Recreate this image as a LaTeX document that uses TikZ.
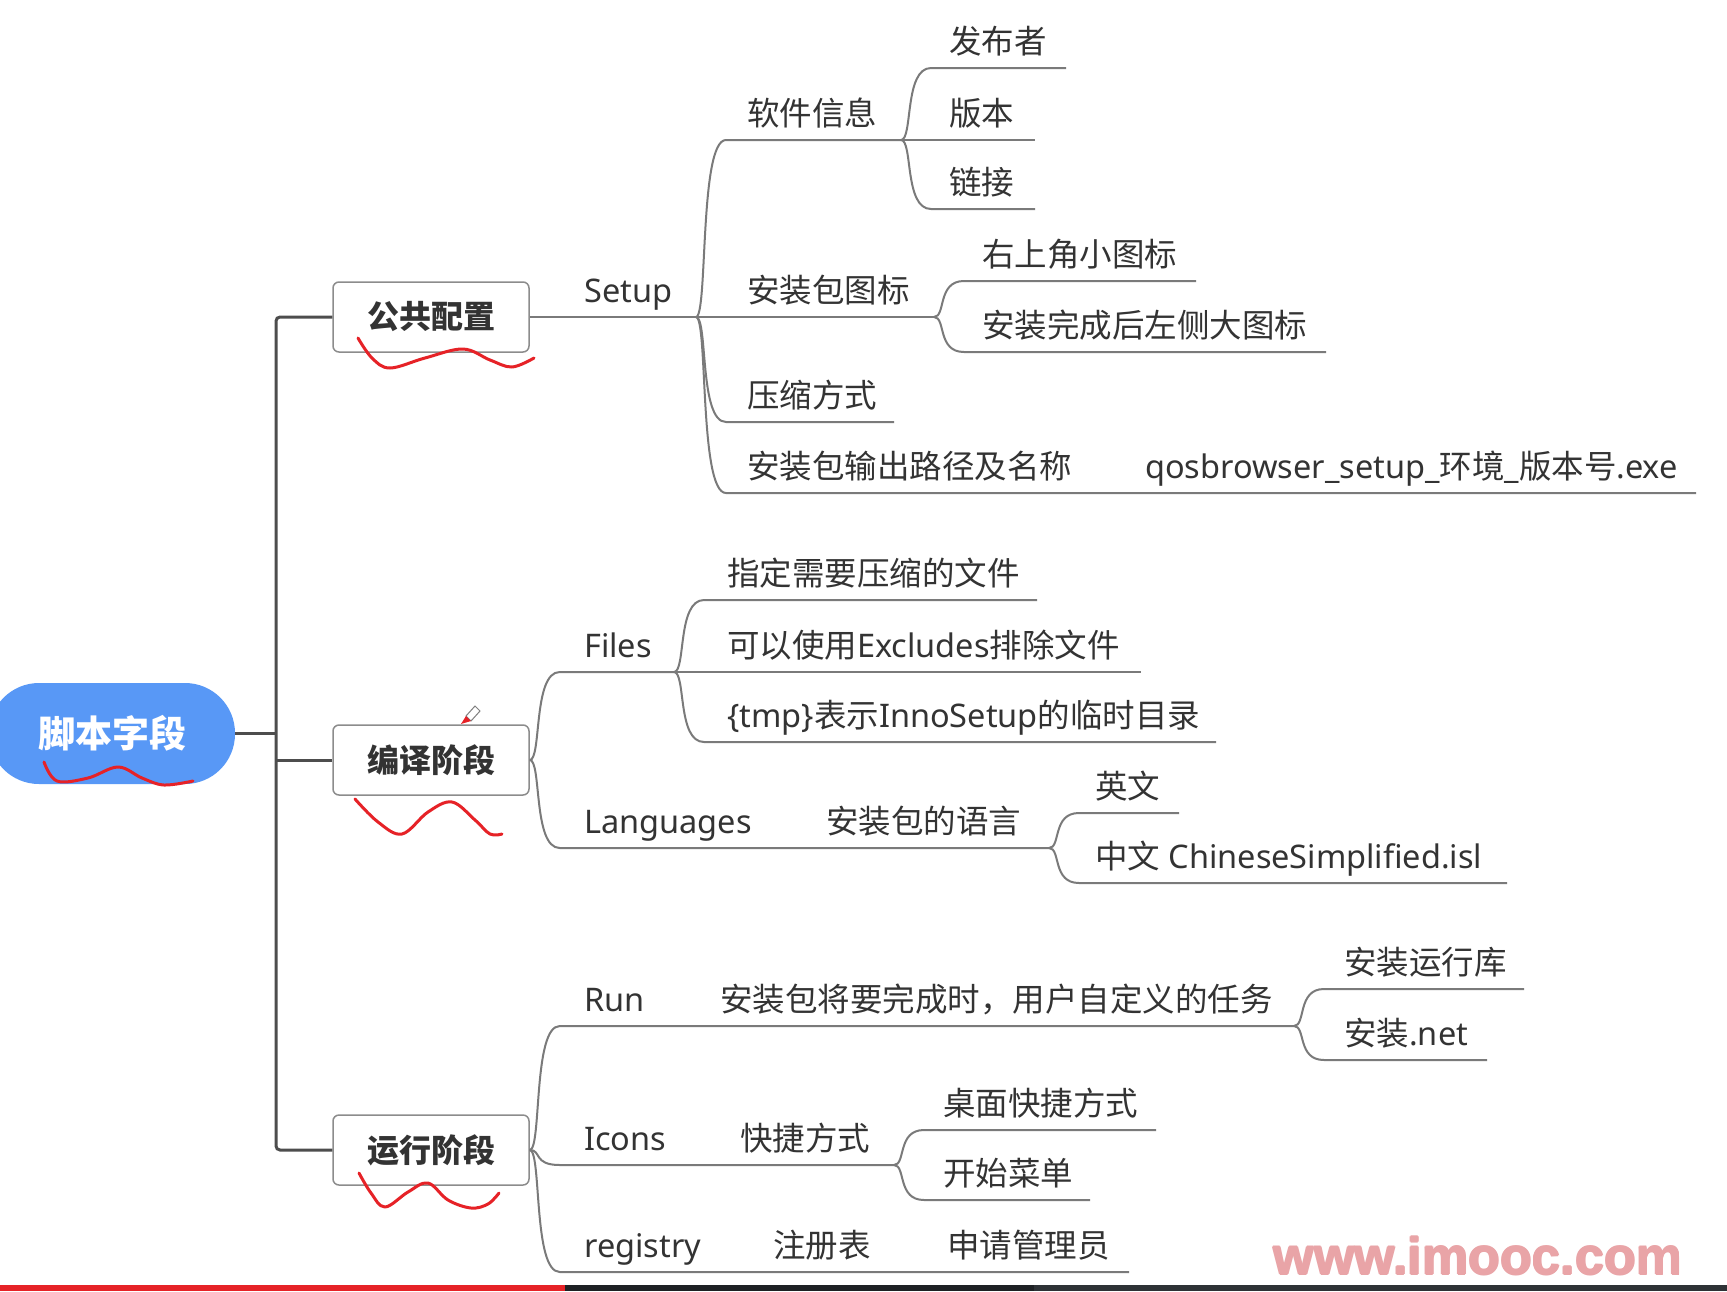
\documentclass[tikz,border=0pt]{standalone}
\usepackage{fontspec}
\setmainfont{Noto Sans}
\newfontfamily\zh{Noto Sans CJK SC}
\newfontfamily\wmfont{Liberation Sans}
\usetikzlibrary{calc}
\definecolor{txtc}{HTML}{333333}
\definecolor{lnc}{HTML}{7A7A7A}
\definecolor{trc}{HTML}{4D4D4D}
\definecolor{boxc}{HTML}{8C8C8C}
\definecolor{rootc}{HTML}{5898F6}
\definecolor{penred}{HTML}{E62227}
\definecolor{wmc}{HTML}{E9A4A7}
\definecolor{barA}{HTML}{1E2124}
\definecolor{barB}{HTML}{2E3236}
\newcommand\mmbranch[2]{\draw[br] (#1) .. controls ($(#1)+(12,0)$) and ($(#1|-#2)+(3,0)$) .. ($(#1|-#2)+(30,0)$) -- (#2);}
\begin{document}
\begin{tikzpicture}[x=1pt,y=-1pt,
  lbl/.style={anchor=base west,inner sep=0pt,text=txtc,font=\fontsize{32.5}{39}\selectfont},
  lblz/.style={lbl,font=\fontsize{32.5}{39}\selectfont\zh},
  br/.style={draw=lnc,line width=2pt},
  trunk/.style={draw=trc,line width=3pt,rounded corners=4pt},
  l1box/.style={draw=boxc,line width=1.5pt,fill=white,rounded corners=6pt,minimum width=196pt,minimum height=70pt,inner sep=0pt,text=txtc,font=\fontsize{32}{38}\selectfont\zh\bfseries},
  rootnode/.style={fill=rootc,rounded corners=50pt,minimum width=246pt,minimum height=101pt,inner sep=0pt,text=white,font=\fontsize{37}{44}\selectfont\zh\bfseries},
  squig/.style={draw=penred,line width=3pt,line cap=round,line join=round},
  wmstyle/.style={font=\fontsize{52}{60}\selectfont\wmfont\bfseries,text=wmc,inner sep=0pt},
]
\useasboundingbox (0,0) rectangle (1727,1291);
\fill[white] (0,0) rectangle (1727,1291);

% level 0 and 1
\node[rootnode] (root) at (112,733.5) {脚本字段};
\node[l1box] (b1) at (431,317) {公共配置};
\node[l1box] (b2) at (431,760) {编译阶段};
\node[l1box] (b3) at (431,1150) {运行阶段};

\coordinate (tk1) at (276,317);
\coordinate (tk2) at (276,760);
\coordinate (tk3) at (276,1150);
\coordinate (tkr) at (276,733.5);
\draw[trunk] (b1.west) -- (tk1) -- (tk3) -- (b3.west);
\draw[trunk] (root.east) -- (tkr);
\draw[trunk] (tk2) -- (b2.west);

% junctions and line ends
\coordinate (J1) at (696,317);
\coordinate (J11) at (901,140);
\coordinate (J12) at (934,317);
\coordinate (e13) at (894,422);
\coordinate (e14) at (1696,493);
\coordinate (e111) at (1066,68);
\coordinate (e112) at (1035,140);
\coordinate (e113) at (1035,209);
\coordinate (e121) at (1196,281);
\coordinate (e122) at (1326,352);
\coordinate (J21) at (674,672);
\coordinate (e211) at (1037,600);
\coordinate (e212) at (1141,672);
\coordinate (e213) at (1216,742);
\coordinate (J22) at (1049,848);
\coordinate (e221) at (1179,813);
\coordinate (e222) at (1507,883);
\coordinate (J31) at (1294,1026);
\coordinate (e311) at (1524,989);
\coordinate (e312) at (1487,1060);
\coordinate (J32) at (894,1165);
\coordinate (e321) at (1156,1130);
\coordinate (e322) at (1090,1200);
\coordinate (e33) at (1129,1272);

% connectors
\draw[br] (b1.east) -- (J1);
\mmbranch{J1}{J11}
\draw[br] (J1) -- (J12);
\mmbranch{J1}{e13}
\mmbranch{J1}{e14}
\mmbranch{J11}{e111}
\draw[br] (J11) -- (e112);
\mmbranch{J11}{e113}
\mmbranch{J12}{e121}
\mmbranch{J12}{e122}
\mmbranch{b2.east}{J21}
\mmbranch{J21}{e211}
\draw[br] (J21) -- (e212);
\mmbranch{J21}{e213}
\mmbranch{b2.east}{J22}
\mmbranch{J22}{e221}
\mmbranch{J22}{e222}
\mmbranch{b3.east}{J31}
\mmbranch{J31}{e311}
\mmbranch{J31}{e312}
\mmbranch{b3.east}{J32}
\mmbranch{J32}{e321}
\mmbranch{J32}{e322}
\mmbranch{b3.east}{e33}

% labels
\node[lbl]  (tSetup) at (584,302) {Setup};
\node[lblz] (t11) at (747,125) {软件信息};
\node[lblz] (t12) at (747,302) {安装包图标};
\node[lblz] (t13) at (747,407) {压缩方式};
\node[lblz] (t14) at (747,478) {安装包输出路径及名称};
\node[lbl]  (t141) at (1145,478) {qosbrowser\_setup\_{\zh 环境}\_{\zh 版本号}.exe};
\node[lblz] (t111) at (949,53) {发布者};
\node[lblz] (t112) at (949,125) {版本};
\node[lblz] (t113) at (949,194) {链接};
\node[lblz] (t121) at (982,266) {右上角小图标};
\node[lblz] (t122) at (982,337) {安装完成后左侧大图标};

\node[lbl]  (tFiles) at (584,657) {Files};
\node[lblz] (t211) at (727,585) {指定需要压缩的文件};
\node[lbl]  (t212) at (727,657) {{\zh 可以使用}Excludes{\zh 排除文件}};
\node[lbl]  (t213) at (727,727) {\{tmp\}{\zh 表示}InnoSetup{\zh 的临时目录}};
\node[lbl]  (tLang) at (584,833) {Languages};
\node[lblz] (t22) at (826,833) {安装包的语言};
\node[lblz] (t221) at (1095,798) {英文};
\node[lbl]  (t222) at (1095,868) {{\zh 中文} ChineseSimplified.isl};

\node[lbl]  (tRun) at (584,1011) {Run};
\node[lblz] (t31) at (720,1011) {安装包将要完成时，用户自定义的任务};
\node[lblz] (t311) at (1344,974) {安装运行库};
\node[lbl]  (t312) at (1344,1045) {{\zh 安装}.net};
\node[lbl]  (tIcons) at (584,1150) {Icons};
\node[lblz] (t32) at (740,1150) {快捷方式};
\node[lblz] (t321) at (943,1115) {桌面快捷方式};
\node[lblz] (t322) at (943,1185) {开始菜单};
\node[lbl]  (treg) at (584,1257) {registry};
\node[lblz] (t33) at (773,1257) {注册表};
\node[lblz] (t331) at (947,1257) {申请管理员};

% red hand-drawn marks
\draw[squig] plot[smooth,tension=0.6] coordinates {(44,762) (57,781) (88,778) (118,767) (142,778) (164,785) (193,781)};
\draw[squig] plot[smooth,tension=0.6] coordinates {(358,338) (372,358) (390,368) (425,358) (463,349) (490,360) (512,367) (534,358)};
\draw[squig] plot[smooth,tension=0.6] coordinates {(355,799) (378,822) (402,834) (428,812) (452,802) (475,820) (490,834) (502,834)};
\draw[squig] plot[smooth,tension=0.6] coordinates {(359,1173) (371,1193) (385,1207) (408,1192) (428,1183) (448,1200) (471,1208) (488,1204) (499,1193)};

% pen cursor
\draw[gray,line width=1pt,fill=white] (466,716) -- (475,706) -- (480,711) -- (471,721) -- cycle;
\fill[penred] (461,724) -- (466,716) -- (471,721) -- cycle;

% watermark (offset copies thicken the strokes)
\foreach \dx/\dy in {-0.9/0,0.9/0,0/-0.9,0/0.9}{
  \node[wmstyle] at (1478+\dx,1256+\dy) {www.imooc.com};
}
\node[wmstyle] (wm) at (1478,1256) {www.imooc.com};

% bottom progress bar
\fill[penred] (0,1285) rectangle (565,1291);
\fill[barA] (565,1285) rectangle (1034,1291);
\fill[barB] (1034,1285) rectangle (1727,1291);
\end{tikzpicture}
\end{document}
